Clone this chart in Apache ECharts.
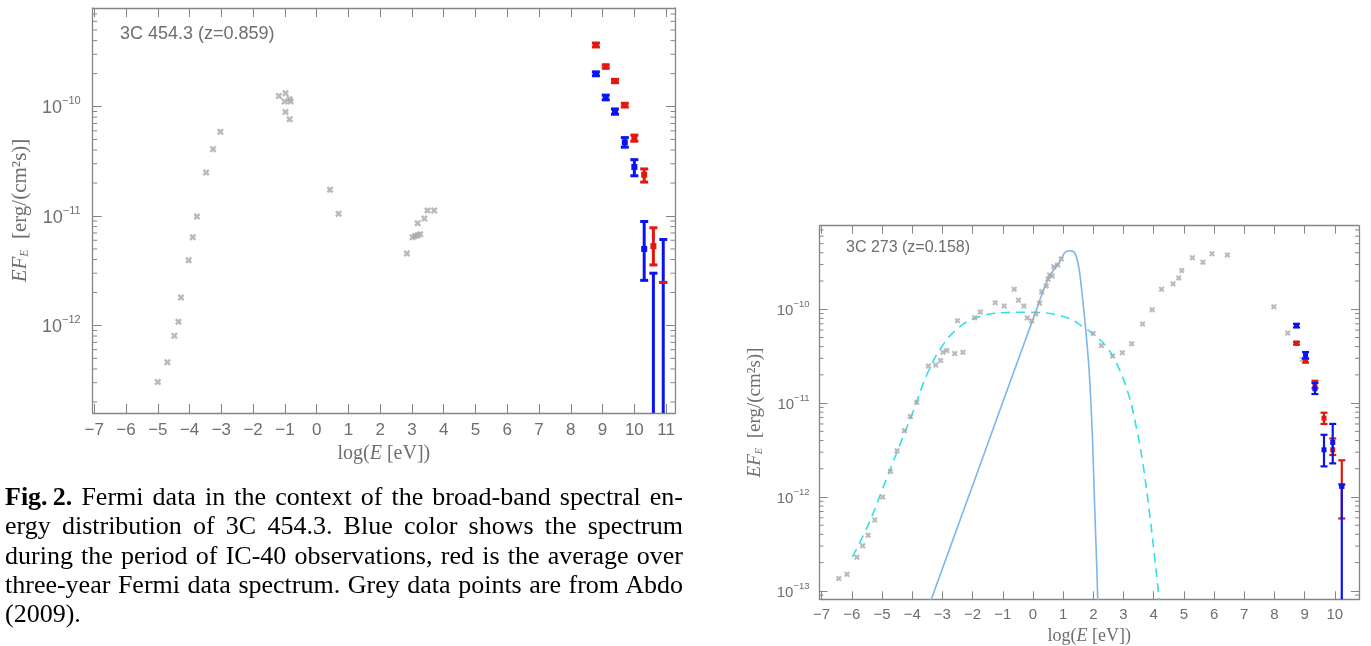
<!DOCTYPE html>
<html><head><meta charset="utf-8">
<script src="https://cdn.jsdelivr.net/npm/echarts@6/dist/echarts.min.js"></script>
<style>
html,body{margin:0;padding:0;background:#fff;}
#chart{position:absolute;left:0;top:0;width:1371px;height:646px;}
#caption{position:absolute;left:5px;top:482px;width:678px;font-family:'Liberation Serif','Times New Roman',serif;font-size:26px;line-height:29.3px;color:#000;}
#caption div{white-space:nowrap;text-align:justify;text-align-last:justify;}
#caption div.last{text-align-last:left;}
</style></head><body>
<div id="chart"></div>
<div id="caption">
<div><b>Fig.&#8201;2.</b> Fermi data in the context of the broad-band spectral en-</div>
<div>ergy distribution of 3C 454.3. Blue color shows the spectrum</div>
<div>during the period of IC-40 observations, red is the average over</div>
<div>three-year Fermi data spectrum. Grey data points are from Abdo</div>
<div class="last">(2009).</div>
</div>
<script>
// ---------- 3C 454.3 (left panel) ----------
const title454 = '3C 454.3 (z=0.859)';
const sed454X = [-5.0, -4.70, -4.48, -4.35, -4.27, -4.03, -3.90, -3.77, -3.48, -3.26, -3.03,
  -1.19, -0.98, -1.01, -0.85, -0.82, -0.98, -0.85, 0.42, 0.69,
  2.84, 3.02, 3.10, 3.18, 3.26, 3.18, 3.39, 3.49, 3.70];
const sed454Flux = [3.05e-13, 4.6e-13, 8.05e-13, 1.08e-12, 1.8e-12, 3.94e-12, 6.4e-12, 9.9e-12, 2.5e-11, 4.06e-11, 5.87e-11,
  1.25e-10, 1.32e-10, 1.11e-10, 1.17e-10, 1.11e-10, 8.9e-11, 7.65e-11, 1.74e-11, 1.05e-11,
  4.54e-12, 6.4e-12, 6.55e-12, 6.67e-12, 6.8e-12, 8.57e-12, 9.46e-12, 1.12e-11, 1.12e-11];
const fermi454X = [8.79, 9.10, 9.39, 9.70, 10.00, 10.31, 10.60, 10.91];
const blue454Flux = [1.99e-10, 1.21e-10, 9.0e-11, 4.7e-11, 2.8e-11, 5.0e-12, null, null];
const blue454Hi   = [2.07e-10, 1.27e-10, 9.5e-11, 5.2e-11, 3.27e-11, 8.9e-12, 3.0e-12, 6.1e-12];
const blue454Lo   = [1.91e-10, 1.15e-10, 8.5e-11, 4.25e-11, 2.33e-11, 2.58e-12, 0, 0];
const red454Flux  = [3.65e-10, 2.32e-10, 1.71e-10, 1.03e-10, 5.1e-11, 2.38e-11, 5.3e-12, null];
const red454Hi    = [3.8e-10, 2.4e-10, 1.77e-10, 1.07e-10, 5.48e-11, 2.69e-11, 7.8e-12, 2.47e-12];
const red454Lo    = [3.5e-10, 2.24e-10, 1.65e-10, 0.99e-10, 4.82e-11, 2.04e-11, 3.57e-12, 2.47e-12];
const xTicks454 = [-7, -6, -5, -4, -3, -2, -1, 0, 1, 2, 3, 4, 5, 6, 7, 8, 9, 10, 11];
const yDecades454 = [-12, -11, -10];

// ---------- 3C 273 (right panel) ----------
const title273 = '3C 273 (z=0.158)';
const sed273X = [-6.43, -6.16, -5.83, -5.64, -5.46, -5.24, -4.98, -4.72, -4.50, -4.26, -4.06, -3.85,
  -3.46, -3.22, -3.06, -2.98, -2.85, -2.59, -2.32, -2.50, -1.93, -1.74, -1.25, -0.95, -0.62, -0.48,
  -0.30, -0.19, -0.04, 0.09, 0.22, 0.29, 0.44, 0.50, 0.55, 0.64, 0.69, 0.82, 0.94,
  1.99, 2.27, 2.64, 2.96, 3.27, 3.63, 3.95, 4.26, 4.64, 4.83, 4.93, 5.28, 5.63, 5.93, 6.44,
  7.98, 8.44, 8.93];
const sed273Flux = [1.35e-13, 1.5e-13, 2.28e-13, 3.03e-13, 3.9e-13, 5.7e-13, 1.0e-12, 1.87e-12, 3.1e-12, 5.07e-12, 7.2e-12, 1.02e-11,
  2.48e-11, 2.55e-11, 2.84e-11, 3.49e-11, 3.63e-11, 3.37e-11, 3.49e-11, 7.56e-11, 8.14e-11, 9.36e-11, 1.17e-10, 1.08e-10, 1.63e-10, 1.25e-10,
  1.08e-10, 8.08e-11, 7.56e-11, 8.9e-11, 1.16e-10, 1.54e-10, 1.77e-10, 2.09e-10, 2.32e-10, 2.26e-10, 2.84e-10, 2.96e-10, 3.43e-10,
  5.5e-11, 4.1e-11, 3.18e-11, 3.45e-11, 4.28e-11, 6.98e-11, 9.9e-11, 1.63e-10, 1.87e-10, 2.15e-10, 2.58e-10, 3.54e-10, 3.16e-10, 3.9e-10, 3.79e-10,
  1.06e-10, 5.6e-11, 2.94e-11];
const fermi273X = [8.73, 9.03, 9.34, 9.64, 9.93, 10.23];
const blue273Flux = [6.7e-11, 3.27e-11, 1.42e-11, 3.18e-12, 3.81e-12, 1.3e-12];
const blue273Hi   = [7.0e-11, 3.5e-11, 1.64e-11, 4.6e-12, 6.0e-12, 1.36e-12];
const blue273Lo   = [6.4e-11, 3.0e-11, 1.25e-11, 2.12e-12, 2.28e-12, 0];
const red273Flux  = [4.35e-11, 2.82e-11, 1.54e-11, 6.92e-12, 3.18e-12, 1.3e-12];
const red273Hi    = [4.5e-11, 2.95e-11, 1.73e-11, 7.9e-12, 4.2e-12, 2.46e-12];
const red273Lo    = [4.2e-11, 2.7e-11, 1.44e-11, 6.0e-12, 2.8e-12, 5.9e-13];
// model curves
const syncModelX = [-5.98, -5.46, -4.99, -4.47, -3.99, -3.46, -2.95, -2.43, -1.93, -1.43, -0.97, -0.40, 0.22, 0.66, 1.22, 1.66, 2.04, 2.43, 2.76, 3.15, 3.42, 3.64, 3.86, 4.03, 4.16, 4.19];
const syncModelFlux = [2.3e-13, 5.0e-13, 1.2e-12, 3.2e-12, 7.8e-12, 2.2e-11, 4.3e-11, 6.5e-11, 8.0e-11, 8.9e-11, 9.2e-11, 9.3e-11, 9.2e-11, 8.9e-11, 7.9e-11, 6.5e-11, 5.3e-11, 4.0e-11, 2.7e-11, 1.29e-11, 5.6e-12, 2.3e-12, 6.8e-13, 2.3e-13, 9.5e-14, 7.6e-14];
const diskModelX = [-3.40, -2.0, -1.0, 0.0, 0.5, 0.88, 1.05, 1.19, 1.38, 1.52, 1.64, 1.75, 1.86, 1.97, 2.04, 2.12, 2.15];
const diskModelFlux = [7.6e-14, 1.32e-12, 1.02e-11, 7.8e-11, 2.1e-10, 3.2e-10, 4.0e-10, 4.2e-10, 4.0e-10, 2.8e-10, 1.35e-10, 6.0e-11, 2.25e-11, 4.4e-12, 8.7e-13, 1.55e-13, 7.1e-14];
const xTicks273 = [-7, -6, -5, -4, -3, -2, -1, 0, 1, 2, 3, 4, 5, 6, 7, 8, 9, 10];
const yDecades273 = [-13, -12, -11, -10];

// ---------- styling ----------
const AXIS_C = '#858585';
const TEXT_C = '#6e6e6e';
const SANS = "'Liberation Sans', Arial, sans-serif";
const SERIF = "'Liberation Serif', 'Times New Roman', serif";
const GREY_PT = '#a9a9a9';
const BLUE = '#0a14f0';
const RED = '#e0180f';
const XSYM = 'path://M0,2.5L2.5,0L5,2.5L7.5,0L10,2.5L7.5,5L10,7.5L7.5,10L5,7.5L2.5,10L0,7.5L2.5,5Z';

const lg = v => (v === null ? NaN : (v > 0 ? Math.log10(v) : -Infinity));
function minorTicks(lo, hi) {
  const out = [];
  for (let d = Math.floor(lo) - 1; d <= Math.ceil(hi); d++) {
    for (let k = 2; k <= 9; k++) { const v = d + Math.log10(k); if (v > lo && v < hi) out.push(v); }
  }
  return out;
}
const minus = s => String(s).replace('-', '\u2212');

function axesFor(gi, xr, yr, xTicks, yMajor, f) {
  const line = {show: true, onZero: false, lineStyle: {color: AXIS_C, width: 1.3}};
  const tickStyle = {color: AXIS_C, width: 1};
  const xa = [
    {gridIndex: gi, type: 'value', position: 'bottom', min: xr[0], max: xr[1],
     axisLine: line, splitLine: {show: false},
     axisTick: {show: true, inside: true, length: f.major, customValues: xTicks, lineStyle: tickStyle},
     axisLabel: {show: true, customValues: xTicks, formatter: v => minus(v), margin: f.xMargin,
       color: TEXT_C, fontSize: f.xFont, fontFamily: SANS},
     name: '{n|log(}{i|E}{n| [eV])}', nameLocation: 'middle', nameGap: f.xNameGap,
     nameTextStyle: {rich: {
       n: {fontFamily: SERIF, fontSize: f.xNameFont, color: TEXT_C, lineHeight: f.xNameFont + 4},
       i: {fontFamily: SERIF, fontStyle: 'italic', fontSize: f.xNameFont, color: TEXT_C, lineHeight: f.xNameFont + 4}}}},
    {gridIndex: gi, type: 'value', position: 'top', min: xr[0], max: xr[1],
     axisLine: line, splitLine: {show: false},
     axisTick: {show: true, inside: true, length: f.major, customValues: xTicks, lineStyle: tickStyle},
     axisLabel: {show: false}}
  ];
  const ya = ['left', 'right'].map(pos => ({gridIndex: gi, type: 'value', position: pos, min: yr[0], max: yr[1],
      axisLine: line, splitLine: {show: false},
      axisTick: {show: true, inside: true, length: f.major, customValues: yMajor, lineStyle: tickStyle},
      axisLabel: pos === 'left' ? {show: true, customValues: yMajor, margin: f.yMargin,
        formatter: v => '{b|10}{s|' + minus(Math.round(v)) + '}',
        rich: {b: {fontFamily: SANS, fontSize: f.yFont, color: TEXT_C, lineHeight: f.yFont + 4, verticalAlign: 'bottom'},
               s: {fontFamily: SANS, fontSize: f.supFont, color: TEXT_C, lineHeight: f.supFont + 2, verticalAlign: 'top'}}} : {show: false},
      name: pos === 'left' ? '{i|EF}{sub|E}{n|  [erg/(cm\u00B2s)]}' : '',
      nameLocation: 'middle', nameGap: f.yNameGap,
      nameTextStyle: {rich: {
        i: {fontFamily: SERIF, fontStyle: 'italic', fontSize: f.yNameFont, color: TEXT_C, lineHeight: f.yNameFont + 6, verticalAlign: 'bottom'},
        sub: {fontFamily: SERIF, fontStyle: 'italic', fontSize: f.yNameFont * 0.55, color: TEXT_C, lineHeight: f.yNameFont * 0.55, verticalAlign: 'bottom'},
        n: {fontFamily: SERIF, fontSize: f.yNameFont, color: TEXT_C, lineHeight: f.yNameFont + 6, verticalAlign: 'bottom'}}}}));
  return {xa, ya};
}

// minor log ticks (2..9 x 10^n) on both vertical frame sides, placed through the y scale
function minorTickSeries(xi, yi, xr, yr, len) {
  return {type: 'custom', xAxisIndex: xi, yAxisIndex: yi, silent: true, z: 1,
    data: minorTicks(yr[0], yr[1]).map(v => [xr[0], v]),
    renderItem(params, api) {
      const cs = params.coordSys;
      const y = api.coord([api.value(0), api.value(1)])[1];
      const st = {stroke: AXIS_C, lineWidth: 1};
      return {type: 'group', children: [
        {type: 'line', shape: {x1: cs.x, y1: y, x2: cs.x + len, y2: y}, style: st},
        {type: 'line', shape: {x1: cs.x + cs.width - len, y1: y, x2: cs.x + cs.width, y2: y}, style: st}
      ]};
    }};
}

function scatterSeries(xi, yi, xs, ys, size) {
  return {type: 'scatter', xAxisIndex: xi, yAxisIndex: yi, symbol: XSYM, symbolSize: size,
    itemStyle: {color: GREY_PT}, z: 3, data: xs.map((x, i) => [x, lg(ys[i])])};
}

function errorBarSeries(xi, yi, xs, c, hi, lo, color, lw, capW, mSize) {
  const cL = c.map(lg), hL = hi.map(lg), lL = lo.map(lg);
  return {
    type: 'custom', xAxisIndex: xi, yAxisIndex: yi, z: 5,
    data: xs.map((x, i) => [x, hL[i]]),
    renderItem(params, api) {
      const i = params.dataIndex;
      const cs = params.coordSys;
      const top = cs.y, bot = cs.y + cs.height;
      const xv = api.value(0);
      const px = api.coord([xv, hL[i]])[0];
      const py = v => isFinite(v) ? api.coord([xv, v])[1] : (v > 0 ? top - 1 : bot + 1);
      const clamp = y => Math.max(top, Math.min(bot, y));
      const yH = py(hL[i]), yLo = py(lL[i]);
      const st = {stroke: color, lineWidth: lw};
      const ch = [{type: 'line', shape: {x1: px, y1: clamp(yH), x2: px, y2: clamp(yLo)}, style: st}];
      [yH, yLo].forEach(y => {
        if (y >= top && y <= bot) ch.push({type: 'line', shape: {x1: px - capW / 2, y1: y, x2: px + capW / 2, y2: y}, style: st});
      });
      if (isFinite(cL[i])) {
        const yc = py(cL[i]);
        if (yc >= top && yc <= bot) ch.push({type: 'rect', shape: {x: px - mSize / 2, y: yc - mSize / 2, width: mSize, height: mSize}, style: {fill: color}});
      }
      return {type: 'group', children: ch};
    }
  };
}

const fL = {major: 9, minor: 4.5, xFont: 17, yFont: 18, supFont: 11, xNameFont: 20, yNameFont: 21, xMargin: 9, yMargin: 12, xNameGap: 29, yNameGap: 62};
const fR = {major: 8, minor: 4, xFont: 15, yFont: 15, supFont: 9.5, xNameFont: 18, yNameFont: 19, xMargin: 8, yMargin: 10, xNameGap: 25, yNameGap: 55};
const xr454 = [-7.05, 11.28], yr454 = [-12.8, -9.1];
const xr273 = [-7.07, 10.8], yr273 = [-13.09, -9.11];
const A = axesFor(0, xr454, yr454, xTicks454, yDecades454, fL);
const B = axesFor(1, xr273, yr273, xTicks273, yDecades273, fR);

const option = {
  animation: false,
  backgroundColor: '#ffffff',
  grid: [
    {left: 92.7, top: 8, width: 582.3, height: 405, containLabel: false, outerBoundsMode: 'none'},
    {left: 819.5, top: 225.7, width: 539.5, height: 373.6, containLabel: false, outerBoundsMode: 'none'}
  ],
  xAxis: A.xa.concat(B.xa),
  yAxis: A.ya.concat(B.ya),
  graphic: [
    {type: 'text', left: 120, top: 25, style: {text: title454, font: '18px ' + SANS, fill: TEXT_C}},
    {type: 'text', left: 846, top: 240, style: {text: title273, font: '16px ' + SANS, fill: TEXT_C}}
  ],
  series: [
    minorTickSeries(0, 0, xr454, yr454, fL.minor),
    scatterSeries(0, 0, sed454X, sed454Flux, 7),
    errorBarSeries(0, 0, fermi454X, blue454Flux, blue454Hi, blue454Lo, BLUE, 3, 8, 6),
    errorBarSeries(0, 0, fermi454X, red454Flux, red454Hi, red454Lo, RED, 3, 8, 6),
    minorTickSeries(2, 2, xr273, yr273, fR.minor),
    {type: 'line', xAxisIndex: 2, yAxisIndex: 2, data: syncModelX.map((x, i) => [x, lg(syncModelFlux[i])]),
     showSymbol: false, smooth: 0.4, clip: true, z: 2, lineStyle: {color: '#2fe0ea', width: 1.6, type: [9, 6]}},
    {type: 'line', xAxisIndex: 2, yAxisIndex: 2, data: diskModelX.map((x, i) => [x, lg(diskModelFlux[i])]),
     showSymbol: false, smooth: 0.3, clip: true, z: 2, lineStyle: {color: '#7db6ee', width: 1.6}},
    scatterSeries(2, 2, sed273X, sed273Flux, 6),
    errorBarSeries(2, 2, fermi273X, red273Flux, red273Hi, red273Lo, RED, 2.2, 7, 5),
    errorBarSeries(2, 2, fermi273X, blue273Flux, blue273Hi, blue273Lo, BLUE, 2.2, 7, 5)
  ]
};
const chart = echarts.init(document.getElementById('chart'), null, {renderer: 'canvas'});
chart.setOption(option);
</script>
</body></html>
